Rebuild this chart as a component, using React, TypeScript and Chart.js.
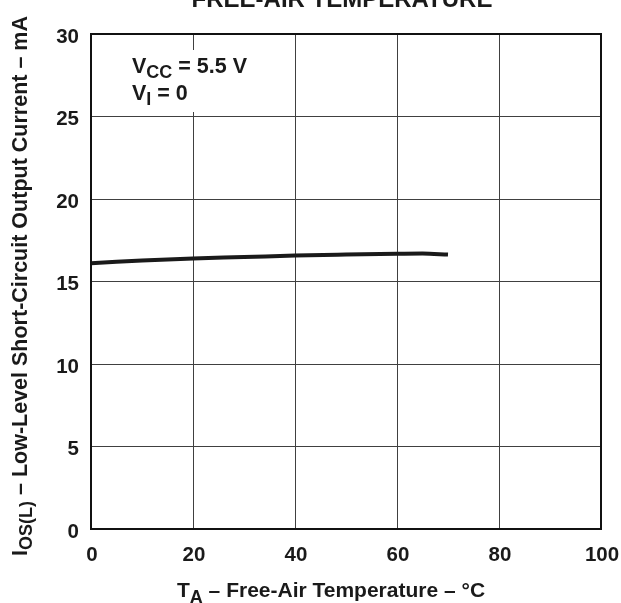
import React, { useEffect, useRef } from "react";
import { Chart, registerables } from "chart.js";

Chart.register(...registerables);

// ---- data ----
const temperatures = [0, 5, 10, 20, 30, 40, 50, 60, 65, 70];
const currents = [16.1, 16.2, 16.28, 16.4, 16.48, 16.57, 16.63, 16.68, 16.7, 16.63];
const xTickValues = [0, 20, 40, 60, 80, 100];
const yTickValues = [0, 5, 10, 15, 20, 25, 30];
const chartTitle = "FREE-AIR TEMPERATURE";
const xTitleParts = [
  { t: "T" },
  { t: "A", sub: true },
  { t: " \u2013 Free-Air Temperature \u2013 \u00B0C" },
];
const yTitleParts = [
  { t: "I" },
  { t: "OS(L)", sub: true },
  { t: " \u2013 Low-Level Short-Circuit Output Current \u2013 mA" },
];
const noteLine1 = [{ t: "V" }, { t: "CC", sub: true }, { t: " = 5.5 V" }];
const noteLine2 = [{ t: "V" }, { t: "I", sub: true }, { t: " = 0" }];

const FF = '"Liberation Sans", Arial, Helvetica, sans-serif';

type Part = { t: string; sub?: boolean };

function drawRich(
  ctx: CanvasRenderingContext2D,
  parts: Part[],
  x: number,
  y: number,
  align: "left" | "center",
  size: number,
  subSize: number,
  subDrop: number
) {
  const widths = parts.map((p) => {
    ctx.font = `bold ${p.sub ? subSize : size}px ${FF}`;
    return ctx.measureText(p.t).width;
  });
  const total = widths.reduce((a, b) => a + b, 0);
  let cx = align === "center" ? x - total / 2 : x;
  ctx.textAlign = "left";
  ctx.textBaseline = "alphabetic";
  parts.forEach((p, i) => {
    ctx.font = `bold ${p.sub ? subSize : size}px ${FF}`;
    ctx.fillText(p.t, cx, y + (p.sub ? subDrop : 0));
    cx += widths[i];
  });
}

const decorPlugin = {
  id: "decor",
  beforeDatasetsDraw(chart: any) {
    const ctx = chart.ctx as CanvasRenderingContext2D;
    ctx.save();
    ctx.fillStyle = "#ffffff";
    ctx.fillRect(120, 50, 145, 62);
    ctx.restore();
  },
  afterDraw(chart: any) {
    const ctx = chart.ctx as CanvasRenderingContext2D;
    const a = chart.chartArea;
    ctx.save();
    // plot frame
    ctx.strokeStyle = "#111111";
    ctx.lineWidth = 2;
    ctx.strokeRect(a.left, a.top, a.right - a.left, a.bottom - a.top);

    ctx.fillStyle = "#1a1a1a";
    // title (cut at top)
    ctx.font = `bold 24px ${FF}`;
    ctx.textAlign = "center";
    ctx.textBaseline = "alphabetic";
    ctx.fillText(chartTitle, 342, 7);

    // annotation
    drawRich(ctx, noteLine1, 132, 73, "left", 21.5, 18, 5);
    drawRich(ctx, noteLine2, 132, 100, "left", 21.5, 18, 5);

    // x title
    drawRich(ctx, xTitleParts, 331, 597, "center", 21, 18, 6);

    // y title rotated
    ctx.translate(27, 286);
    ctx.rotate(-Math.PI / 2);
    drawRich(ctx, yTitleParts, 0, 0, "center", 21.5, 18, 5);
    ctx.restore();
  },
};

export default function App() {
  const ref = useRef<HTMLCanvasElement | null>(null);
  useEffect(() => {
    document.body.style.margin = "0";
    const canvas = ref.current!;
    const chart = new Chart(canvas, {
      type: "line",
      data: {
        datasets: [
          {
            data: temperatures.map((x, i) => ({ x, y: currents[i] })),
            borderColor: "#1a1a1a",
            borderWidth: 4,
            pointRadius: 0,
            cubicInterpolationMode: "monotone",
            fill: false,
          },
        ],
      },
      options: {
        animation: false,
        responsive: false,
        devicePixelRatio: 1,
        layout: { padding: { left: 0, top: 34, right: 20, bottom: 0 } },
        plugins: {
          legend: { display: false },
          tooltip: { enabled: false },
          title: { display: false },
        },
        scales: {
          x: {
            type: "linear",
            min: 0,
            max: 100,
            afterBuildTicks: (s: any) => {
              s.ticks = xTickValues.map((v) => ({ value: v }));
            },
            afterFit: (s: any) => {
              s.height = 74;
              s.paddingLeft = 0;
              s.paddingRight = 0;
            },
            grid: { color: "#404040", lineWidth: 1, drawTicks: false },
            border: { display: false },
            ticks: {
              color: "#1a1a1a",
              font: { family: FF, size: 20.5, weight: "bold" },
              padding: 14,
              maxRotation: 0,
              autoSkip: false,
              labelOffset: 1,
            },
          },
          y: {
            type: "linear",
            min: 0,
            max: 30,
            afterBuildTicks: (s: any) => {
              s.ticks = yTickValues.map((v) => ({ value: v }));
            },
            afterFit: (s: any) => {
              s.width = 91;
              s.paddingTop = 0;
              s.paddingBottom = 0;
            },
            grid: { color: "#404040", lineWidth: 1, drawTicks: false },
            border: { display: false },
            ticks: {
              color: "#1a1a1a",
              font: { family: FF, size: 20.5, weight: "bold" },
              padding: 12,
              autoSkip: false,
              labelOffset: 3,
            },
          },
        },
      },
      plugins: [decorPlugin],
    } as any);
    return () => chart.destroy();
  }, []);
  return (
    <div style={{ position: "absolute", left: 0, top: 0, width: 621, height: 603, background: "#fff" }}>
      <canvas ref={ref} width={621} height={603} />
    </div>
  );
}
